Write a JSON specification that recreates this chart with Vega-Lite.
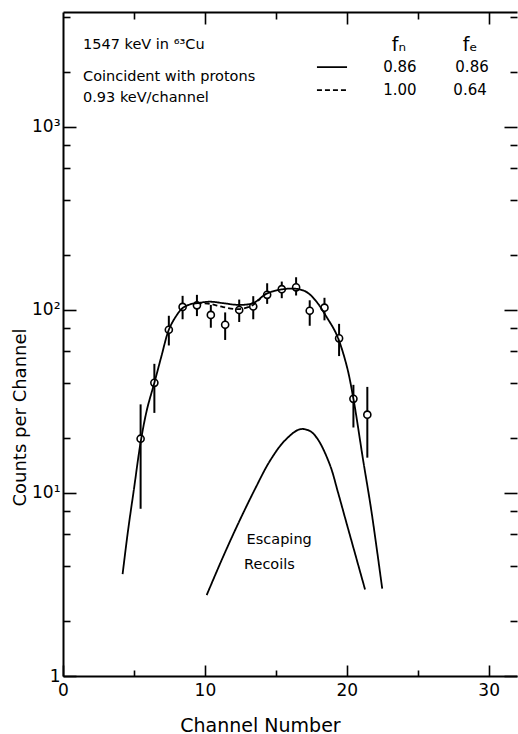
{
  "$schema": "https://vega.github.io/schema/vega-lite/v6.json",
  "width": 454,
  "height": 664,
  "autosize": {"type": "none"},
  "padding": {"left": 63, "top": 12, "right": 1, "bottom": 58},
  "background": "white",
  "config": {
    "view": {"stroke": null},
    "font": "DejaVu Sans",
    "axis": {
      "grid": false,
      "domainColor": "black",
      "domainWidth": 2,
      "tickColor": "black",
      "tickWidth": 1.6,
      "labelColor": "black",
      "labelFont": "DejaVu Sans",
      "labelFontSize": 17,
      "titleFont": "DejaVu Sans",
      "titleFontSize": 18,
      "titleFontWeight": "normal",
      "titleColor": "black"
    }
  },
  "datasets": {
    "points": [
      {"channel": 5.47, "counts": 19.8, "lo": 8.2, "hi": 30.5},
      {"channel": 6.44, "counts": 40, "lo": 27.4, "hi": 50.8},
      {"channel": 7.46, "counts": 78, "lo": 64, "hi": 93},
      {"channel": 8.43, "counts": 104, "lo": 89, "hi": 119.5},
      {"channel": 9.44, "counts": 106, "lo": 92.6, "hi": 121},
      {"channel": 10.42, "counts": 94, "lo": 80, "hi": 106.6},
      {"channel": 11.43, "counts": 83, "lo": 68.6, "hi": 97},
      {"channel": 12.42, "counts": 100, "lo": 86, "hi": 114},
      {"channel": 13.41, "counts": 104.5, "lo": 89, "hi": 119},
      {"channel": 14.39, "counts": 121, "lo": 108, "hi": 140},
      {"channel": 15.42, "counts": 130, "lo": 116, "hi": 143},
      {"channel": 16.43, "counts": 133, "lo": 120, "hi": 151},
      {"channel": 17.39, "counts": 99, "lo": 82, "hi": 113},
      {"channel": 18.43, "counts": 103, "lo": 87.8, "hi": 116.6},
      {"channel": 19.46, "counts": 70, "lo": 56, "hi": 84},
      {"channel": 20.47, "counts": 32.7, "lo": 22.8, "hi": 39},
      {"channel": 21.45, "counts": 26.8, "lo": 15.6, "hi": 38}
    ],
    "curves": [
      {"curve": "fn 0.86, fe 0.86", "channel": 4.2, "counts": 3.6},
      {"curve": "fn 0.86, fe 0.86", "channel": 4.58, "counts": 6.2},
      {"curve": "fn 0.86, fe 0.86", "channel": 5.0, "counts": 10.5},
      {"curve": "fn 0.86, fe 0.86", "channel": 5.48, "counts": 19.1},
      {"curve": "fn 0.86, fe 0.86", "channel": 5.92, "counts": 28.6},
      {"curve": "fn 0.86, fe 0.86", "channel": 6.44, "counts": 40},
      {"curve": "fn 0.86, fe 0.86", "channel": 6.94, "counts": 56},
      {"curve": "fn 0.86, fe 0.86", "channel": 7.46, "counts": 78},
      {"curve": "fn 0.86, fe 0.86", "channel": 7.95, "counts": 92},
      {"curve": "fn 0.86, fe 0.86", "channel": 8.43, "counts": 102.5},
      {"curve": "fn 0.86, fe 0.86", "channel": 9.0, "counts": 107.6},
      {"curve": "fn 0.86, fe 0.86", "channel": 9.42, "counts": 108.9},
      {"curve": "fn 0.86, fe 0.86", "channel": 10.35, "counts": 111},
      {"curve": "fn 0.86, fe 0.86", "channel": 11.29, "counts": 109},
      {"curve": "fn 0.86, fe 0.86", "channel": 12.35, "counts": 106.7},
      {"curve": "fn 0.86, fe 0.86", "channel": 13.4, "counts": 109},
      {"curve": "fn 0.86, fe 0.86", "channel": 14.35, "counts": 122.8},
      {"curve": "fn 0.86, fe 0.86", "channel": 15.4, "counts": 129.5},
      {"curve": "fn 0.86, fe 0.86", "channel": 16.43, "counts": 130.6},
      {"curve": "fn 0.86, fe 0.86", "channel": 17.16, "counts": 125.5},
      {"curve": "fn 0.86, fe 0.86", "channel": 17.87, "counts": 111},
      {"curve": "fn 0.86, fe 0.86", "channel": 18.57, "counts": 91.8},
      {"curve": "fn 0.86, fe 0.86", "channel": 19.28, "counts": 73.5},
      {"curve": "fn 0.86, fe 0.86", "channel": 19.98, "counts": 50.1},
      {"curve": "fn 0.86, fe 0.86", "channel": 20.47, "counts": 32.7},
      {"curve": "fn 0.86, fe 0.86", "channel": 21.15, "counts": 15.2},
      {"curve": "fn 0.86, fe 0.86", "channel": 21.74, "counts": 7.95},
      {"curve": "fn 0.86, fe 0.86", "channel": 22.5, "counts": 3.0},
      {"curve": "fn 1.00, fe 0.64", "channel": 9.42, "counts": 108.9},
      {"curve": "fn 1.00, fe 0.64", "channel": 10.35, "counts": 108},
      {"curve": "fn 1.00, fe 0.64", "channel": 11.29, "counts": 103.7},
      {"curve": "fn 1.00, fe 0.64", "channel": 12.35, "counts": 101.2},
      {"curve": "fn 1.00, fe 0.64", "channel": 13.2, "counts": 104.6},
      {"curve": "fn 1.00, fe 0.64", "channel": 13.65, "counts": 110.5},
      {"curve": "fn 1.00, fe 0.64", "channel": 13.9, "counts": 115},
      {"curve": "escaping recoils", "channel": 10.13, "counts": 2.77},
      {"curve": "escaping recoils", "channel": 11.21, "counts": 4.35},
      {"curve": "escaping recoils", "channel": 12.33, "counts": 6.76},
      {"curve": "escaping recoils", "channel": 13.53, "counts": 10.5},
      {"curve": "escaping recoils", "channel": 14.59, "counts": 15.0},
      {"curve": "escaping recoils", "channel": 15.65, "counts": 19.4},
      {"curve": "escaping recoils", "channel": 16.7, "counts": 22.3},
      {"curve": "escaping recoils", "channel": 17.41, "counts": 21.8},
      {"curve": "escaping recoils", "channel": 17.97, "counts": 19.6},
      {"curve": "escaping recoils", "channel": 18.82, "counts": 14.2},
      {"curve": "escaping recoils", "channel": 19.38, "counts": 10.1},
      {"curve": "escaping recoils", "channel": 19.95, "counts": 7.0},
      {"curve": "escaping recoils", "channel": 20.58, "counts": 4.68},
      {"curve": "escaping recoils", "channel": 21.29, "counts": 2.97}
    ],
    "key": [
      {"curve": "fn 0.86, fe 0.86", "from": 17.9, "to": 20.02, "counts": 2125},
      {"curve": "fn 1.00, fe 0.64", "from": 17.9, "to": 20.1, "counts": 1591}
    ],
    "texts": [
      {"label": "1547 keV in ⁶³Cu", "channel": 1.41, "counts": 2803, "role": "note"},
      {"label": "Coincident with protons", "channel": 1.41, "counts": 1874, "role": "note"},
      {"label": "0.93 keV/channel", "channel": 1.41, "counts": 1439, "role": "note"},
      {"label": "Escaping", "channel": 12.94, "counts": 5.54, "role": "note"},
      {"label": "Recoils", "channel": 12.76, "counts": 4.04, "role": "note"},
      {"label": "fₙ", "channel": 23.68, "counts": 2803, "role": "head"},
      {"label": "fₑ", "channel": 28.69, "counts": 2803, "role": "head"},
      {"label": "0.86", "channel": 23.75, "counts": 2125, "role": "value"},
      {"label": "0.86", "channel": 28.83, "counts": 2125, "role": "value"},
      {"label": "1.00", "channel": 23.75, "counts": 1591, "role": "value"},
      {"label": "0.64", "channel": 28.69, "counts": 1591, "role": "value"}
    ]
  },
  "layer": [
    {
      "data": {"name": "points"},
      "mark": {"type": "rule", "color": "black", "strokeWidth": 2},
      "encoding": {
        "x": {
          "field": "channel", "type": "quantitative",
          "scale": {"type": "linear", "domain": [0, 32], "nice": false, "zero": false},
          "axis": {"orient": "bottom", "values": [0, 10, 20, 30], "tickSize": -11, "labelPadding": 17, "title": "Channel Number", "titlePadding": 18, "titleX": 197, "titleFontSize": 19, "labelFlush": false}
        },
        "y": {
          "field": "lo", "type": "quantitative",
          "scale": {"type": "log", "domain": [1, 4250], "nice": false},
          "axis": {"orient": "left", "values": [1, 10, 100, 1000], "tickSize": -13, "labelPadding": 16,
                   "labelExpr": "datum.value == 1 ? '1' : datum.value == 10 ? '10¹' : datum.value == 100 ? '10²' : '10³'",
                   "title": "Counts per Channel", "titleX": -43, "titleY": 405, "titleBaseline": "middle", "labelFlush": false}
        },
        "y2": {"field": "hi"}
      }
    },
    {
      "data": {"name": "points"},
      "mark": {"type": "point", "shape": "circle", "filled": true, "fill": "white", "stroke": "black", "strokeWidth": 1.6, "size": 50, "opacity": 1},
      "encoding": {
        "x": {
          "field": "channel", "type": "quantitative",
          "scale": {"type": "linear", "domain": [0, 32], "nice": false, "zero": false},
          "axis": {"orient": "bottom", "values": [5, 15, 25], "tickSize": -6, "labels": false, "domain": false, "title": null}
        },
        "y": {
          "field": "counts", "type": "quantitative",
          "scale": {"type": "log", "domain": [1, 4250], "nice": false},
          "axis": {"orient": "left", "values": [2, 4, 6, 8, 20, 40, 60, 80, 200, 400, 600, 800, 2000, 4000], "tickSize": -7, "labels": false, "domain": false, "title": null}
        }
      }
    },
    {
      "data": {"name": "curves"},
      "mark": {"type": "line", "color": "black", "strokeWidth": 1.8, "interpolate": "catmull-rom"},
      "encoding": {
        "x": {
          "field": "channel", "type": "quantitative",
          "scale": {"type": "linear", "domain": [0, 32], "nice": false, "zero": false},
          "axis": {"orient": "top", "values": [10, 20, 30], "tickSize": -12, "labels": false, "domain": true, "title": null}
        },
        "y": {
          "field": "counts", "type": "quantitative",
          "scale": {"type": "log", "domain": [1, 4250], "nice": false},
          "axis": {"orient": "right", "values": [1, 10, 100, 1000], "tickSize": -13, "labels": false, "domain": false, "title": null}
        },
        "detail": {"field": "curve"},
        "strokeDash": {
          "field": "curve", "type": "nominal",
          "scale": {"domain": ["fn 0.86, fe 0.86", "fn 1.00, fe 0.64", "escaping recoils"], "range": [[1, 0], [5, 3], [1, 0]]},
          "legend": null
        }
      }
    },
    {
      "data": {"name": "key"},
      "mark": {"type": "rule", "color": "black", "strokeWidth": 1.8},
      "encoding": {
        "x": {
          "field": "from", "type": "quantitative",
          "scale": {"type": "linear", "domain": [0, 32], "nice": false, "zero": false},
          "axis": {"orient": "top", "values": [5, 15, 25], "tickSize": -7, "labels": false, "domain": false, "title": null}
        },
        "x2": {"field": "to"},
        "y": {
          "field": "counts", "type": "quantitative",
          "scale": {"type": "log", "domain": [1, 4250], "nice": false},
          "axis": {"orient": "right", "values": [2, 4, 6, 8, 20, 40, 60, 80, 200, 400, 600, 800, 2000, 4000], "tickSize": -7, "labels": false, "domain": false, "title": null}
        },
        "strokeDash": {
          "field": "curve", "type": "nominal",
          "scale": {"domain": ["fn 0.86, fe 0.86", "fn 1.00, fe 0.64", "escaping recoils"], "range": [[1, 0], [5, 3], [1, 0]]},
          "legend": null
        }
      }
    },
    {
      "data": {"name": "texts"},
      "transform": [{"filter": "datum.role == 'note'"}],
      "mark": {"type": "text", "align": "left", "baseline": "middle", "fontSize": 14.5, "color": "black", "font": "DejaVu Sans"},
      "encoding": {
        "x": {"field": "channel", "type": "quantitative", "scale": {"type": "linear", "domain": [0, 32], "nice": false, "zero": false}, "axis": null},
        "y": {"field": "counts", "type": "quantitative", "scale": {"type": "log", "domain": [1, 4250], "nice": false}, "axis": null},
        "text": {"field": "label"}
      }
    },
    {
      "data": {"name": "texts"},
      "transform": [{"filter": "datum.role == 'head'"}],
      "mark": {"type": "text", "align": "center", "baseline": "middle", "fontSize": 19, "color": "black", "font": "DejaVu Sans"},
      "encoding": {
        "x": {"field": "channel", "type": "quantitative", "scale": {"type": "linear", "domain": [0, 32], "nice": false, "zero": false}, "axis": null},
        "y": {"field": "counts", "type": "quantitative", "scale": {"type": "log", "domain": [1, 4250], "nice": false}, "axis": null},
        "text": {"field": "label"}
      }
    },
    {
      "data": {"name": "texts"},
      "transform": [{"filter": "datum.role == 'value'"}],
      "mark": {"type": "text", "align": "center", "baseline": "middle", "fontSize": 15, "color": "black", "font": "DejaVu Sans"},
      "encoding": {
        "x": {"field": "channel", "type": "quantitative", "scale": {"type": "linear", "domain": [0, 32], "nice": false, "zero": false}, "axis": null},
        "y": {"field": "counts", "type": "quantitative", "scale": {"type": "log", "domain": [1, 4250], "nice": false}, "axis": null},
        "text": {"field": "label"}
      }
    }
  ],
  "resolve": {"axis": {"x": "independent", "y": "independent"}}
}
